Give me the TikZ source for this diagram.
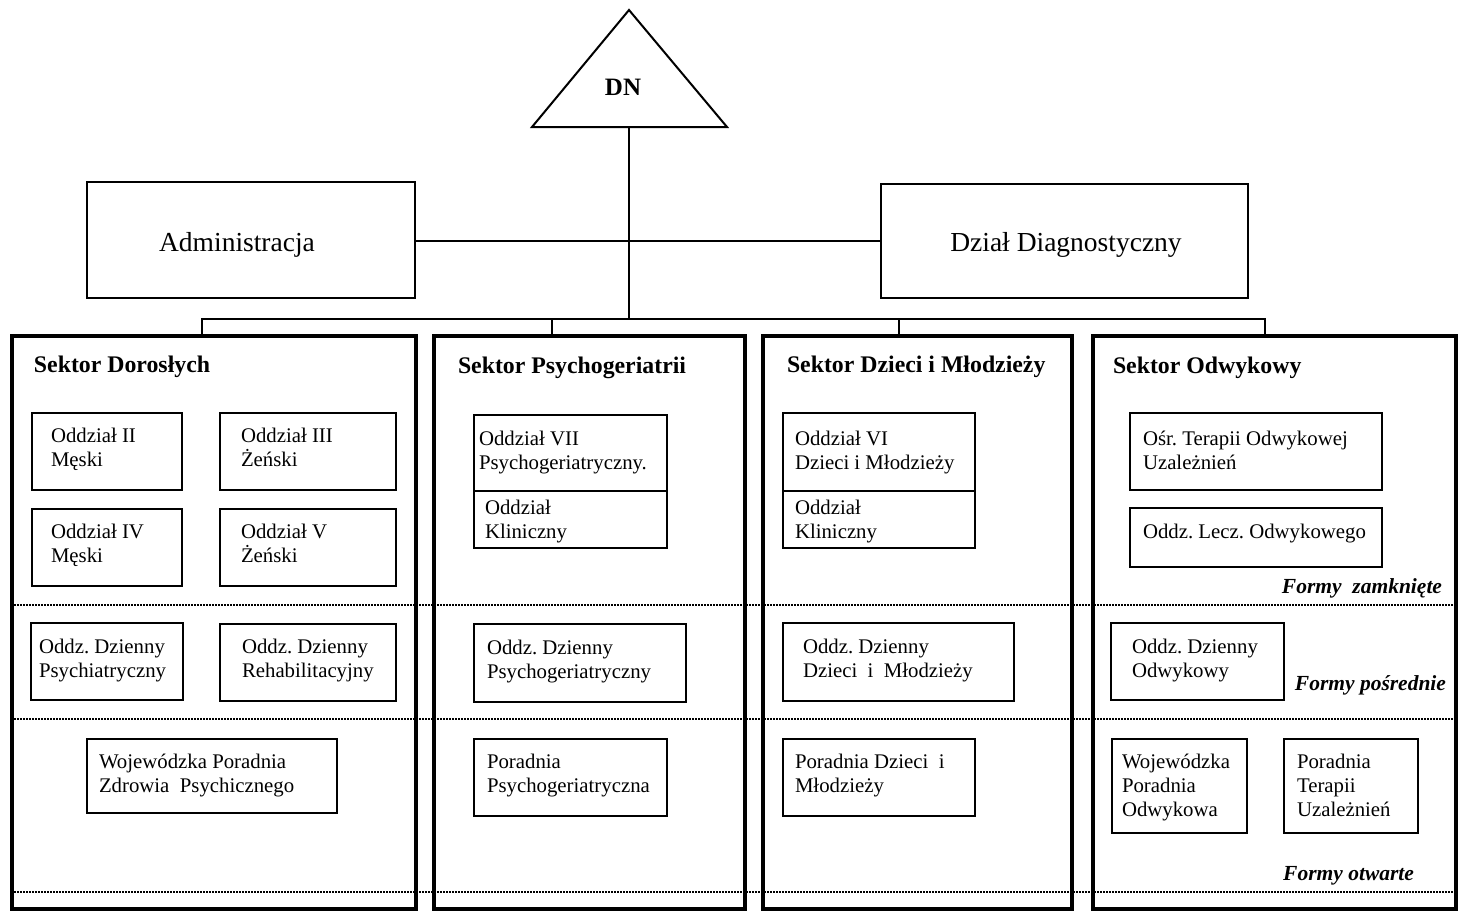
\documentclass[tikz,border=0pt]{standalone}
\usepackage{fontspec}
\setmainfont{Liberation Serif}
\usetikzlibrary{fit}
\frenchspacing

\begin{document}
\begin{tikzpicture}[x=1pt,y=-1pt,
  every node/.style={inner sep=0pt, outer sep=0pt},
  connector/.style={line width=1.6pt},
  sectorbox/.style={draw, line width=3.6pt, fit={#1}},
  topbox/.style={draw, line width=2.8pt, fit={#1}},
  unitbox/.style={draw, line width=1.8pt, fit={#1}},
  separator/.style={line width=1.8pt, dash pattern=on 1.6pt off 1.4pt},
  % multi-line labels are placed by the baseline of their last line
  unittext/.style={anchor=base west, align=left, font=\fontsize{20.8}{24}\selectfont},
  headtext/.style={anchor=base west, font=\fontsize{23.8}{28}\selectfont\bfseries},
  formtext/.style={anchor=base east, font=\fontsize{21.5}{26}\selectfont\bfseries\itshape},
  toptext/.style={anchor=base, font=\fontsize{27.5}{32}\selectfont}
]
\useasboundingbox (0,0) rectangle (1460,911);

% --- director ---
\coordinate (apex) at (629,10);
\coordinate (bl) at (532,127);
\coordinate (br) at (727,127);
\draw[line width=2pt, line join=miter] (apex) -- (bl) -- (br) -- cycle;
\node[font=\fontsize{25}{30}\selectfont\bfseries, anchor=base] (dn) at (623,95) {DN};
\coordinate (dnfoot) at (629,127);

% --- staff units ---
\coordinate (a1) at (87,182);  \coordinate (a2) at (415,298);
\node[topbox={(a1) (a2)}] (adm) {};
\node[toptext] (admtxt) at (237,251) {Administracja};
\coordinate (d1) at (881,184); \coordinate (d2) at (1248,298);
\node[topbox={(d1) (d2)}] (diag) {};
\node[toptext] (diagtxt) at (1066,251) {Dział Diagnostyczny};

% --- sectors ---
\coordinate (s1a) at (12,336);   \coordinate (s1b) at (416,909);
\coordinate (s2a) at (434,336);  \coordinate (s2b) at (745,909);
\coordinate (s3a) at (763,336);  \coordinate (s3b) at (1072,909);
\coordinate (s4a) at (1093,336); \coordinate (s4b) at (1456,909);
\node[sectorbox={(s1a) (s1b)}] (sec1) {};
\node[sectorbox={(s2a) (s2b)}] (sec2) {};
\node[sectorbox={(s3a) (s3b)}] (sec3) {};
\node[sectorbox={(s4a) (s4b)}] (sec4) {};

% --- connectors ---
\coordinate (bus) at (629,319);
\draw[connector] (dnfoot) -- (bus);
\draw[connector] (adm.east |- 0,241) -- (diag.west |- 0,241);
\draw[connector] (sec1.north -| 202,0) |- (bus) -| (sec4.north -| 1265,0);
\draw[connector] (sec2.north -| 552,0) -- (552,319);
\draw[connector] (sec3.north -| 899,0) -- (899,319);

% --- form separators ---
\draw[separator] (14,605) -- (1458,605);
\draw[separator] (14,719) -- (1458,719);
\draw[separator] (14,892) -- (1458,892);

% --- sector headings ---
\node[headtext] (h1) at (34,372) {Sektor Dorosłych};
\node[headtext] (h2) at (458,373) {Sektor Psychogeriatrii};
\node[headtext] (h3) at (787,372) {Sektor Dzieci i Młodzieży};
\node[headtext] (h4) at (1113,373) {Sektor Odwykowy};

% --- Sektor Dorosłych ---
\node[unitbox={(32,413) (182,490)}] (u11) {};
\node[unittext] at (51,466) {Oddział II\\Męski};
\node[unitbox={(220,413) (396,490)}] (u12) {};
\node[unittext] at (241,466) {Oddział III\\Żeński};
\node[unitbox={(32,509) (182,586)}] (u13) {};
\node[unittext] at (51,562) {Oddział IV\\Męski};
\node[unitbox={(220,509) (396,586)}] (u14) {};
\node[unittext] at (241,562) {Oddział V\\Żeński};
\node[unitbox={(31,623) (183,700)}] (u15) {};
\node[unittext] at (39,677) {Oddz. Dzienny\\Psychiatryczny};
\node[unitbox={(220,624) (396,701)}] (u16) {};
\node[unittext] at (242,677) {Oddz. Dzienny\\Rehabilitacyjny};
\node[unitbox={(87,739) (337,813)}] (u17) {};
\node[unittext] at (99,792) {Wojewódzka Poradnia\\Zdrowia~ Psychicznego};

% --- Sektor Psychogeriatrii ---
\node[unitbox={(474,415) (667,548)}] (u21) {};
\draw[line width=1.8pt] (u21.west |- 0,491) -- (u21.east |- 0,491);
\node[unittext] at (479,469) {Oddział VII\\Psychogeriatryczny.};
\node[unittext] at (485,538) {Oddział\\Kliniczny};
\node[unitbox={(474,624) (686,702)}] (u22) {};
\node[unittext] at (487,678) {Oddz. Dzienny\\Psychogeriatryczny};
\node[unitbox={(474,739) (667,816)}] (u23) {};
\node[unittext] at (487,792) {Poradnia\\Psychogeriatryczna};

% --- Sektor Dzieci i Młodzieży ---
\node[unitbox={(783,413) (975,548)}] (u31) {};
\draw[line width=1.8pt] (u31.west |- 0,491) -- (u31.east |- 0,491);
\node[unittext] at (795,469) {Oddział VI\\Dzieci i Młodzieży};
\node[unittext] at (795,538) {Oddział\\Kliniczny};
\node[unitbox={(783,623) (1014,701)}] (u32) {};
\node[unittext] at (803,677) {Oddz. Dzienny\\Dzieci~ i~ Młodzieży};
\node[unitbox={(783,739) (975,816)}] (u33) {};
\node[unittext] at (795,792) {Poradnia Dzieci~ i\\Młodzieży};

% --- Sektor Odwykowy ---
\node[unitbox={(1130,413) (1382,490)}] (u41) {};
\node[unittext] at (1143,469) {Ośr. Terapii Odwykowej\\Uzależnień};
\node[unitbox={(1130,508) (1382,567)}] (u42) {};
\node[unittext] at (1143,538) {Oddz. Lecz. Odwykowego};
\node[formtext] (f1) at (1442,593) {Formy~ zamknięte};
\node[unitbox={(1111,623) (1284,700)}] (u43) {};
\node[unittext] at (1132,677) {Oddz. Dzienny\\Odwykowy};
\node[formtext] (f2) at (1446,690) {Formy pośrednie};
\node[unitbox={(1112,739) (1247,833)}] (u44) {};
\node[unittext] at (1122,816) {Wojewódzka\\Poradnia\\Odwykowa};
\node[unitbox={(1284,739) (1418,833)}] (u45) {};
\node[unittext] at (1297,816) {Poradnia\\Terapii\\Uzależnień};
\node[formtext] (f3) at (1414,880) {Formy otwarte};
\end{tikzpicture}
\end{document}
